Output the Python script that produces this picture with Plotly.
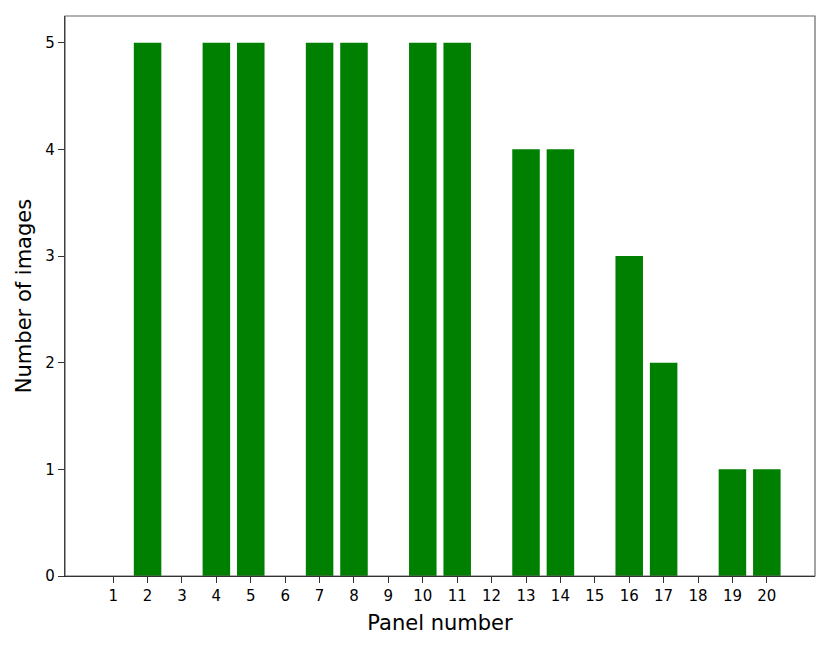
import plotly.graph_objects as go

panels = list(range(1, 21))
n_images = [0, 5, 0, 5, 5, 0, 5, 5, 0, 5, 5, 0, 4, 4, 0, 3, 2, 0, 1, 1]
y_ticks = [0, 1, 2, 3, 4, 5]

fig = go.Figure()
fig.add_bar(x=panels, y=n_images, width=0.8, marker=dict(color='#008000', line=dict(width=0)))

font = dict(family='DejaVu Sans', color='black')
fig.update_xaxes(range=[-0.4, 21.4], tickmode='array', tickvals=panels,
                 ticktext=[str(p) for p in panels],
                 ticks='outside', ticklen=6, tickwidth=1, tickcolor='#333',
                 showline=True, linecolor='black', linewidth=1.2,
                 showgrid=False, zeroline=False,
                 tickfont=dict(size=15, **font),
                 title=dict(text='Panel number', font=dict(size=21, **font), standoff=11))
fig.update_yaxes(range=[0, 5.25], tickmode='array', tickvals=y_ticks,
                 ticks='outside', ticklen=6, tickwidth=1, tickcolor='#333',
                 showline=True, linecolor='black', linewidth=1.2,
                 showgrid=False, zeroline=False,
                 tickfont=dict(size=15, **font),
                 title=dict(text='Number of images', font=dict(size=21, **font), standoff=8))
fig.add_shape(type='rect', xref='paper', yref='paper', x0=0, x1=1, y0=0, y1=1,
              line=dict(color='#666', width=1.2), layer='above')
# page body adds an 8px offset, so the figure is sized and margined around it
fig.update_layout(width=822, height=638, margin=dict(l=57, r=15, t=8, b=70, autoexpand=False),
                  plot_bgcolor='white', paper_bgcolor='white', showlegend=False,
                  bargap=0.2)
fig.write_html("out.html")
